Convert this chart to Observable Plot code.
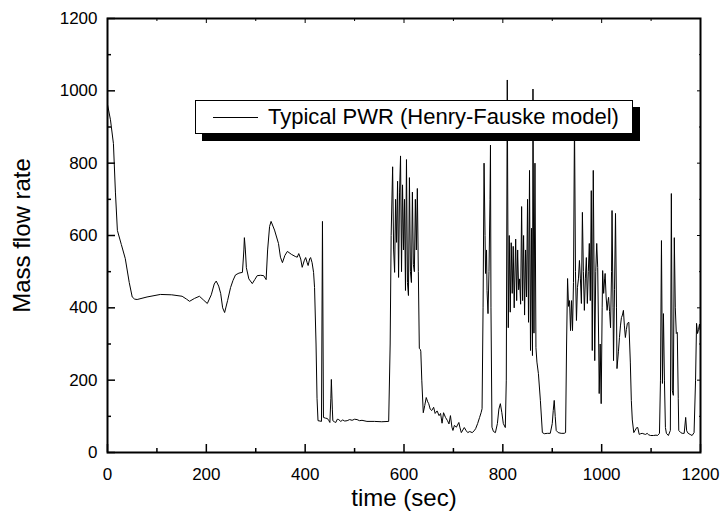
<!DOCTYPE html>
<html>
<head>
<meta charset="utf-8">
<script src="https://cdn.jsdelivr.net/npm/d3@7"></script>
<script src="https://cdn.jsdelivr.net/npm/@observablehq/plot@0.6"></script>
<style>
  html, body { margin: 0; padding: 0; background: #fff; }
  #wrap { position: relative; width: 722px; height: 517px; }
  #legend {
    position: absolute; left: 195px; top: 100px; width: 436px; height: 32px;
    background: #fff; border: 1px solid #000; box-shadow: 7px 7px 0 #000;
    font-family: "Liberation Sans", Arial, sans-serif; font-size: 22px; color: #000;
    display: flex; align-items: center; box-sizing: content-box; white-space: nowrap;
  }
  #legend .sw { width: 45px; height: 0; border-top: 1px solid #000; margin-left: 17px; margin-right: 10px; }
</style>
</head>
<body>
<div id="wrap"></div>
<script>
const seriesName = "Typical PWR (Henry-Fauske model)";
const xTitle = "time (sec)";
const yTitle = "Mass flow rate";
const xMajor = [0, 200, 400, 600, 800, 1000, 1200];
const xMinor = [100, 300, 500, 700, 900, 1100];
const yMajor = [0, 200, 400, 600, 800, 1000, 1200];
const yMinor = [100, 300, 500, 700, 900, 1100];

const time = [0,6,12,16,20,28,36,44,50,55,60,80,107,130,151,160,166,176,186,194,202,210,216,220,225,229,233,237,243,249,254,259,266,273,276,277,279,281,286,293,298,303,310,316,321,324,328,331,338,346,350,354,359,364,372,380,384,387,391,394,398,401,404,406,409,411,414,417,419,422,424,426,430,433,435,437,441,445,448,450,452,453,455,456,459,462,465,468,472,476,480,485,490,495,500,505,510,515,525,540,555,569,572,574,577,579,581,583,585,587,589,591,593,595,597,599,601,603,605,607,609,611,613,615,617,619,621,623,625,627,629,631,633,634,636,639,642,645,648,650,653,656,660,663,667,671,674,677,680,684,688,691,694,697,699,702,706,711,713,716,719,722,726,729,733,738,742,745,749,753,756,758,760,762,764,765,767,768,770,772,774,775,776,778,781,785,789,792,795,798,801,805,807,809,811,813,815,817,819,821,823,826,828,830,832,834,836,838,840,842,844,846,848,850,852,854,856,858,860,861,863,865,867,869,872,876,880,884,890,896,900,902,904,906,908,912,918,924,927,929,931,933,935,937,939,941,943,945,947,949,951,953,955,957,959,961,963,965,967,969,971,973,975,977,979,981,983,986,988,990,992,994,995,997,999,1001,1002,1004,1006,1007,1009,1011,1013,1014,1016,1018,1020,1021,1023,1024,1026,1028,1030,1031,1034,1036,1038,1040,1042,1044,1046,1048,1050,1052,1055,1058,1060,1062,1065,1068,1071,1073,1076,1079,1082,1086,1089,1092,1095,1099,1105,1110,1113,1117,1119,1121,1123,1125,1127,1129,1131,1135,1139,1141,1143,1145,1147,1149,1151,1153,1155,1156,1160,1163,1167,1170,1172,1175,1179,1183,1187,1190,1192,1194,1196,1198,1199];
const flow = [962,920,854,720,614,575,536,470,430,424,423,430,437,436,432,424,418,426,432,422,412,436,466,474,460,440,400,387,420,456,476,491,496,498,560,594,560,511,480,467,478,489,490,489,478,560,625,639,615,578,540,525,545,556,548,542,540,550,535,512,530,539,525,517,535,539,525,498,456,300,150,88,87,86,639,97,95,94,88,83,150,202,120,88,85,83,92,91,86,90,87,88,91,89,92,91,88,89,86,86,85,86,300,600,790,560,498,700,581,750,484,720,820,500,740,560,700,448,810,470,434,760,500,470,720,520,500,700,560,730,500,288,285,280,200,110,130,152,140,135,120,116,125,108,115,102,108,81,110,97,88,79,102,70,61,75,70,83,70,55,62,69,60,55,58,55,60,66,80,97,110,121,400,800,600,495,560,448,384,500,700,850,400,70,58,55,80,120,135,110,80,69,200,1030,345,600,388,580,440,570,400,590,420,560,450,480,410,680,420,600,380,560,430,700,360,780,282,620,268,1005,330,800,290,250,218,144,55,52,53,53,80,116,144,100,61,55,53,53,55,300,481,404,420,337,420,337,470,920,500,365,456,480,531,480,412,664,500,393,480,539,412,500,578,420,724,282,780,254,500,578,511,300,163,300,135,400,503,440,480,495,430,393,420,429,390,345,500,669,400,254,450,661,400,232,280,318,350,373,380,393,350,318,340,357,360,250,144,90,55,62,69,69,50,52,53,51,50,53,49,47,47,48,47,53,200,586,191,384,200,69,53,47,61,716,171,158,594,400,329,332,150,61,55,53,53,97,60,53,50,47,55,200,357,329,340,355,340];

const data = time.map((t, i) => ({t, v: flow[i]}));
const font = "Liberation Sans, Arial, sans-serif";

const chart = Plot.plot({
  width: 722,
  height: 517,
  marginLeft: 107,
  marginRight: 22,
  marginTop: 18,
  marginBottom: 65,
  style: {fontFamily: font, fontSize: "17px", color: "#000", background: "#fff", overflow: "visible"},
  x: {domain: [0, 1200]},
  y: {domain: [0, 1200]},
  marks: [
    Plot.line(data, {x: "t", y: "v", stroke: "#000", strokeWidth: 1}),
    Plot.axisX(xMajor, {anchor: "bottom", tickSize: -8, tickFormat: () => "", label: null, strokeWidth: 1.5}),
    Plot.axisX(xMinor, {anchor: "bottom", tickSize: -4, tickFormat: () => "", label: null, strokeWidth: 1.5}),
    Plot.axisX(xMajor, {anchor: "top", tickSize: -4, tickFormat: () => "", label: null}),
    Plot.axisX(xMinor, {anchor: "top", tickSize: -2, tickFormat: () => "", label: null}),
    Plot.axisX(xMajor, {anchor: "bottom", tickSize: 0, tickPadding: 15, tickFormat: d => String(d), label: null, fontSize: 17}),
    Plot.axisY(yMajor, {anchor: "left", tickSize: -8, tickFormat: () => "", label: null, strokeWidth: 1.5}),
    Plot.axisY(yMinor, {anchor: "left", tickSize: -4, tickFormat: () => "", label: null, strokeWidth: 1.5}),
    Plot.axisY(yMajor, {anchor: "right", tickSize: -4, tickFormat: () => "", label: null}),
    Plot.axisY(yMinor, {anchor: "right", tickSize: -2, tickFormat: () => "", label: null}),
    Plot.axisY(yMajor, {anchor: "left", tickSize: 0, tickPadding: 10, tickFormat: d => String(d), label: null, fontSize: 17}),
    Plot.frame({stroke: "#000", strokeWidth: 2}),
    Plot.text([xTitle], {frameAnchor: "bottom", dy: 46, lineAnchor: "middle", textAnchor: "middle", text: d => d, fontSize: 24, fontFamily: font, fill: "#000"}),
    Plot.text([yTitle], {frameAnchor: "left", dx: -85, rotate: -90, lineAnchor: "middle", textAnchor: "middle", text: d => d, fontSize: 24, fontFamily: font, fill: "#000"})
  ]
});

const wrap = document.getElementById("wrap");
wrap.appendChild(chart);
const legend = document.createElement("div");
legend.id = "legend";
legend.innerHTML = '<span class="sw"></span><span></span>';
legend.lastChild.textContent = seriesName;
wrap.appendChild(legend);
</script>
</body>
</html>
